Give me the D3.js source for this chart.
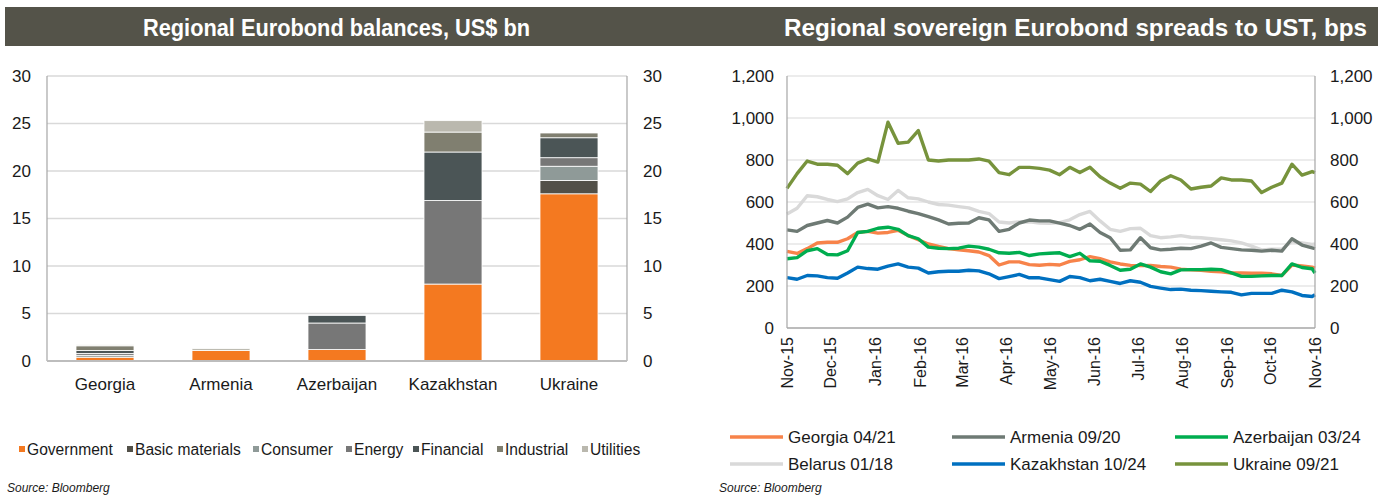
<!DOCTYPE html>
<html>
<head>
<meta charset="utf-8">
<script src="https://cdn.jsdelivr.net/npm/d3@7"></script>
<style>
  body { margin: 0; background: #fff; }
  svg text { font-family: "Liberation Sans", Arial, sans-serif; fill: #1a1a1a; }
</style>
</head>
<body>
<div id="chart"></div>
<script>
// ---- left chart data: Eurobond balances, US$ bn
var countries = ['Georgia', 'Armenia', 'Azerbaijan', 'Kazakhstan', 'Ukraine'];
var sectors = ['Government', 'Basic materials', 'Consumer', 'Energy', 'Financial', 'Industrial', 'Utilities'];
var government     = [0.4, 1.1, 1.2, 8.1, 17.6];
var basicMaterials = [0.0, 0.0, 0.0, 0.0, 1.4];
var consumer       = [0.2, 0.0, 0.0, 0.0, 1.5];
var energy         = [0.2, 0.0, 2.8, 8.8, 0.9];
var financial      = [0.3, 0.0, 0.8, 5.1, 2.1];
var industrial     = [0.5, 0.0, 0.0, 2.1, 0.5];
var utilities      = [0.1, 0.2, 0.0, 1.2, 0.0];
var sectorColors = ['#f47920', '#525048', '#8f9a98', '#777777', '#4b5556', '#807f70', '#bab8ae'];
var balanceTicks = [0, 5, 10, 15, 20, 25, 30];

// ---- right chart data: spreads to UST, bps (weekly readings)
var bondNames = ['Georgia 04/21', 'Armenia 09/20', 'Azerbaijan 03/24', 'Belarus 01/18', 'Kazakhstan 10/24', 'Ukraine 09/21'];
var bondColors = ['#f7834a', '#6e7a74', '#00ad4f', '#d9d9d9', '#0070c0', '#77933c'];
var georgia = [365,355,378,405,408,408,425,455,460,452,455,465,440,420,400,388,378,372,368,362,345,300,315,315,302,299,
  303,300,317,325,340,330,315,305,298,297,298,293,290,280,277,275,270,268,262,262,261,261,258,250,300,295,290,285];
var armenia = [467,460,488,500,512,500,528,574,590,572,578,570,556,545,530,515,495,499,500,525,515,460,470,500,514,510,
  510,499,488,470,495,455,430,370,372,430,382,372,375,380,378,390,405,384,378,372,370,366,370,366,425,395,382,378];
var azerbaijan = [330,335,368,378,350,348,368,455,460,475,480,470,440,425,385,380,378,380,390,385,375,358,356,360,345,353,
  356,358,340,356,320,318,298,275,280,305,290,268,258,277,278,278,280,278,262,246,246,248,250,250,305,288,282,262];
var belarus = [543,570,630,625,612,602,615,645,660,630,612,655,620,615,600,588,585,578,572,555,545,505,500,505,506,500,
  498,502,515,540,555,510,470,460,473,475,440,430,434,440,432,430,425,420,415,405,390,372,375,375,412,405,398,400];
var kazakhstan = [240,232,250,248,240,237,262,290,283,280,295,305,290,285,262,268,270,270,275,272,258,235,245,255,239,239,
  230,222,245,240,225,232,222,212,225,218,198,190,183,185,180,178,175,172,170,158,165,165,165,180,172,155,150,158];
var ukraine = [665,735,795,780,780,775,735,785,805,790,980,880,885,940,800,795,800,800,800,805,795,740,730,765,765,760,
  752,730,765,740,765,720,690,665,690,685,650,700,725,705,662,670,676,715,705,705,700,645,670,690,780,728,745,740];
var spreadTicks = [0, 200, 400, 600, 800, 1000, 1200];

var W = 1383, H = 497;
var svg = d3.select('#chart').append('svg').attr('width', W).attr('height', H);

// header band
svg.append('rect').attr('x', 5).attr('y', 7).attr('width', 1373).attr('height', 39).attr('fill', '#545349');
var titleFont = '"Liberation Sans Narrow", "Arial Narrow", "Liberation Sans", Arial, sans-serif';
svg.append('text').attr('x', 143).attr('y', 36).attr('textLength', 387).attr('lengthAdjust', 'spacingAndGlyphs')
  .style('font-family', titleFont).style('font-size', '24px').style('font-weight', 'bold').style('fill', '#fff')
  .text('Regional Eurobond balances, US$ bn');
svg.append('text').attr('x', 784).attr('y', 36).attr('textLength', 583).attr('lengthAdjust', 'spacingAndGlyphs')
  .style('font-family', titleFont).style('font-size', '24px').style('font-weight', 'bold').style('fill', '#fff')
  .text('Regional sovereign Eurobond spreads to UST, bps');

drawBalances();
drawSpreads();

function drawBalances(){
  var x0 = 47, x1 = 627, yTop = 76, yBot = 361;
  var x = d3.scaleBand().domain(countries).range([x0, x1]).paddingInner(0.5).paddingOuter(0.25);
  var y = d3.scaleLinear().domain([0, 30]).range([yBot, yTop]);
  var g = svg.append('g');

  g.selectAll('.grid').data(balanceTicks.slice(1)).enter().append('line')
    .attr('x1', x0).attr('x2', x1).attr('y1', function(d){ return y(d); }).attr('y2', function(d){ return y(d); })
    .attr('stroke', '#d9d9d9').attr('stroke-width', 1.5);

  var rows = countries.map(function(c, i){
    return { country: c, Government: government[i], 'Basic materials': basicMaterials[i], Consumer: consumer[i],
      Energy: energy[i], Financial: financial[i], Industrial: industrial[i], Utilities: utilities[i] };
  });
  var stack = d3.stack().keys(sectors)(rows);
  stack.forEach(function(layer, k){
    g.selectAll('.s' + k).data(layer.filter(function(d){ return d[1] - d[0] > 0; })).enter().append('rect')
      .attr('x', function(d){ return x(d.data.country); })
      .attr('width', x.bandwidth())
      .attr('y', function(d){ return y(d[1]); })
      .attr('height', function(d){ return y(d[0]) - y(d[1]); })
      .attr('fill', sectorColors[k]).attr('stroke', '#fff').attr('stroke-width', 0.8);
  });

  g.append('line').attr('x1', x0).attr('x2', x0).attr('y1', yTop).attr('y2', yBot).attr('stroke', '#a6a6a6').attr('stroke-width', 1.2);
  g.append('line').attr('x1', x1).attr('x2', x1).attr('y1', yTop).attr('y2', yBot).attr('stroke', '#a6a6a6').attr('stroke-width', 1.2);
  g.append('line').attr('x1', x0).attr('x2', x1).attr('y1', yBot).attr('y2', yBot).attr('stroke', '#bdbdbd').attr('stroke-width', 2);

  var left = g.append('g').attr('transform', 'translate(' + (x0 - 16) + ',0)')
    .call(d3.axisLeft(y).tickValues(balanceTicks).tickSize(0).tickPadding(0));
  var right = g.append('g').attr('transform', 'translate(' + (x1 + 16) + ',0)')
    .call(d3.axisRight(y).tickValues(balanceTicks).tickSize(0).tickPadding(0));
  [left, right].forEach(function(a){
    a.select('.domain').remove();
    a.selectAll('text').style('font-size', '17px').style('font-family', '"Liberation Sans", Arial, sans-serif').attr('fill', '#1a1a1a');
  });

  var bottom = g.append('g').attr('transform', 'translate(0,' + yBot + ')')
    .call(d3.axisBottom(x).tickSize(0).tickPadding(17));
  bottom.select('.domain').remove();
  bottom.selectAll('text').style('font-size', '17px').style('font-family', '"Liberation Sans", Arial, sans-serif').attr('fill', '#1a1a1a');

  // legend
  var legendX = [19, 127, 253, 346, 413, 497, 582];
  var lg = g.selectAll('.leg').data(sectors).enter().append('g')
    .attr('transform', function(d, i){ return 'translate(' + legendX[i] + ',449)'; });
  lg.append('rect').attr('x', 0).attr('y', -3).attr('width', 6).attr('height', 6)
    .attr('fill', function(d, i){ return sectorColors[i]; });
  lg.append('text').attr('x', 8).attr('y', 5.5).style('font-size', '15.6px').text(function(d){ return d; });

  g.append('text').attr('x', 7).attr('y', 492).style('font-size', '12px').style('font-style', 'italic').text('Source: Bloomberg');
}

function drawSpreads(){
  var x0 = 787, x1 = 1315, yTop = 76, yBot = 328;
  var start = new Date(2015, 10, 1), end = new Date(2016, 10, 1);
  var dates = d3.timeWeek.range(start, end);
  dates.push(end);
  var x = d3.scaleTime().domain([start, end]).range([x0, x1]);
  var y = d3.scaleLinear().domain([0, 1200]).range([yBot, yTop]);
  var g = svg.append('g');

  g.selectAll('.grid').data(spreadTicks.slice(1)).enter().append('line')
    .attr('x1', x0).attr('x2', x1).attr('y1', function(d){ return y(d); }).attr('y2', function(d){ return y(d); })
    .attr('stroke', '#d9d9d9').attr('stroke-width', 1.2);

  var series = [georgia, armenia, azerbaijan, belarus, kazakhstan, ukraine];
  var order = [3, 1, 0, 4, 2, 5];
  var line = d3.line().x(function(d, i){ return x(dates[i]); }).y(function(d){ return y(d); });
  order.forEach(function(k){
    g.append('path').datum(series[k]).attr('d', line).attr('fill', 'none')
      .attr('stroke', bondColors[k]).attr('stroke-width', 3.4).attr('stroke-linejoin', 'round');
  });

  g.append('line').attr('x1', x0).attr('x2', x0).attr('y1', yTop).attr('y2', yBot).attr('stroke', '#a6a6a6').attr('stroke-width', 1.2);
  g.append('line').attr('x1', x1).attr('x2', x1).attr('y1', yTop).attr('y2', yBot).attr('stroke', '#a6a6a6').attr('stroke-width', 1.2);
  g.append('line').attr('x1', x0).attr('x2', x1).attr('y1', yBot).attr('y2', yBot).attr('stroke', '#a6a6a6').attr('stroke-width', 1.5);

  var fmt = d3.format(',');
  var left = g.append('g').attr('transform', 'translate(' + (x0 - 13) + ',0)')
    .call(d3.axisLeft(y).tickValues(spreadTicks).tickFormat(fmt).tickSize(0).tickPadding(0));
  var right = g.append('g').attr('transform', 'translate(' + (x1 + 15) + ',0)')
    .call(d3.axisRight(y).tickValues(spreadTicks).tickFormat(fmt).tickSize(0).tickPadding(0));
  [left, right].forEach(function(a){
    a.select('.domain').remove();
    a.selectAll('text').style('font-size', '17px').style('font-family', '"Liberation Sans", Arial, sans-serif').attr('fill', '#1a1a1a');
  });

  var bottom = g.append('g').attr('transform', 'translate(0,' + yBot + ')')
    .call(d3.axisBottom(x).ticks(d3.timeMonth.every(1)).tickFormat(d3.timeFormat('%b-%y')).tickSize(0).tickPadding(0));
  bottom.select('.domain').remove();
  bottom.selectAll('text').attr('transform', 'rotate(-90)').attr('x', -9).attr('y', 0).attr('dy', '0.35em')
    .style('text-anchor', 'end').style('font-size', '16px').style('font-family', '"Liberation Sans", Arial, sans-serif').attr('fill', '#1a1a1a');

  // legend
  var colX = [730, 952, 1175];
  var rowY = [437, 464];
  var lg = g.selectAll('.leg').data(bondNames).enter().append('g')
    .attr('transform', function(d, i){ return 'translate(' + colX[i % 3] + ',' + rowY[Math.floor(i / 3)] + ')'; });
  lg.append('line').attr('x1', 0).attr('x2', 53).attr('y1', 0).attr('y2', 0)
    .attr('stroke', function(d, i){ return bondColors[i]; }).attr('stroke-width', 3.6);
  lg.append('text').attr('x', 58).attr('y', 6).style('font-size', '17px').text(function(d){ return d; });

  g.append('text').attr('x', 719).attr('y', 492).style('font-size', '12px').style('font-style', 'italic').text('Source: Bloomberg');
}
</script>
</body>
</html>
